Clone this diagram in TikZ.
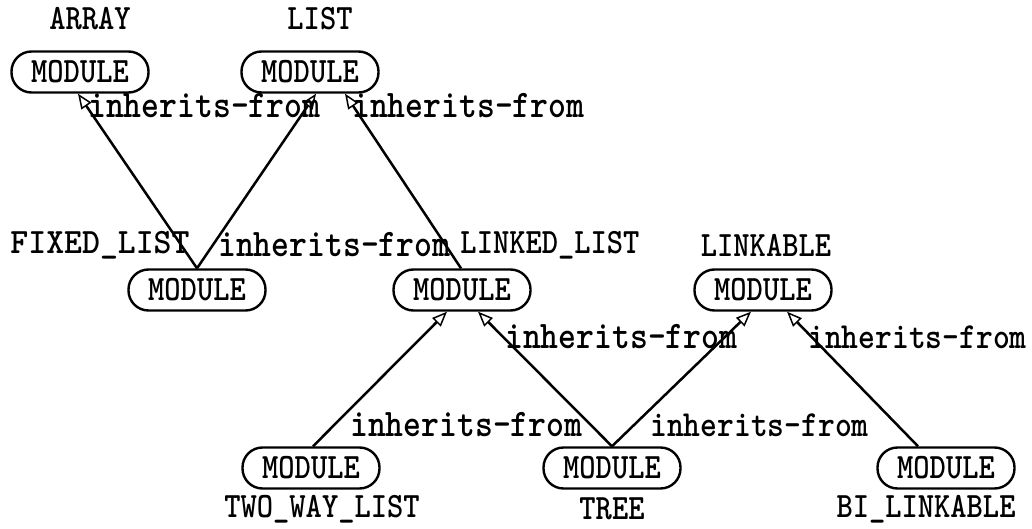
\documentclass[tikz,border=0pt]{standalone}
\usetikzlibrary{arrows.meta}
\newcommand{\tallt}[1]{\scalebox{1}[1.15]{#1}}
\begin{document}
\begin{tikzpicture}[x=1pt,y=-1pt,
  mod/.style={draw,line width=2.4pt,rounded corners=20pt,minimum width=137pt,minimum height=41pt,inner sep=0pt,
    font=\ttfamily\bfseries\fontsize{31}{36}\selectfont},
  lbl/.style={inner sep=0pt,font=\ttfamily\bfseries\fontsize{31}{36}\selectfont},
  inh/.style={line width=2.5pt,-{Triangle[open,length=15pt,width=12pt,line width=1.5pt,fill=white]}},
  el/.style={inner sep=0pt,anchor=west,font=\ttfamily\bfseries\fontsize{34}{38}\selectfont},
  els/.style={el,font=\ttfamily\bfseries\fontsize{32}{38}\selectfont}]
\useasboundingbox (0,0) rectangle (1032,529);
% nodes
\node[mod] (array) at (80,72) {\tallt{MODULE}};
\node[mod] (list) at (310,72) {\tallt{MODULE}};
\node[mod] (fixed) at (197,290) {\tallt{MODULE}};
\node[mod] (linked) at (462,290) {\tallt{MODULE}};
\node[mod] (linkable) at (763,290) {\tallt{MODULE}};
\node[mod] (twoway) at (311,468) {\tallt{MODULE}};
\node[mod] (tree) at (612,468) {\tallt{MODULE}};
\node[mod] (bilink) at (946,468) {\tallt{MODULE}};
% names
\node[lbl] (larray) at (90,19) {\tallt{ARRAY}};
\node[lbl] (llist) at (320,19) {\tallt{LIST}};
\node[lbl] (lfixed) at (100,245) {\scalebox{1.1}[1.15]{FIXED\_LIST}};
\node[lbl] (llinked) at (550,245) {\tallt{LINKED\_LIST}};
\node[lbl] (llinkable) at (766,245) {\tallt{LINKABLE}};
\node[lbl] (ltwoway) at (322,509) {\tallt{TWO\_WAY\_LIST}};
\node[lbl] (ltree) at (612,509) {\tallt{TREE}};
\node[lbl] (lbilink) at (926,509) {\tallt{BI\_LINKABLE}};
% edges
\draw[inh] ([xshift=0pt]fixed.north) -- ([xshift=-2pt]array.south);
\draw[inh] ([xshift=0pt]fixed.north) -- ([xshift=6pt]list.south);
\draw[inh] ([xshift=-1pt]linked.north) -- ([xshift=35pt]list.south);
\draw[inh] ([xshift=2pt]twoway.north) -- ([xshift=-15pt]linked.south);
\draw[inh] (tree.north) -- ([xshift=16pt]linked.south);
\draw[inh] (tree.north) -- ([xshift=-12pt]linkable.south);
\draw[inh] ([xshift=-28pt]bilink.north) -- ([xshift=24pt]linkable.south);
% edge labels
\node[el] (e1) at (88,106) {\tallt{inherits-from}};
\node[el] (e2) at (352,106) {\tallt{inherits-from}};
\node[el] (e3) at (218,245) {\tallt{inherits-from}};
\node[el] (e4) at (505,337) {\tallt{inherits-from}};
\node[els] (e5) at (808,337) {\tallt{inherits-from}};
\node[el] (e6) at (350,425) {\tallt{inherits-from}};
\node[els] (e7) at (650,425) {\tallt{inherits-from}};
\end{tikzpicture}
\end{document}
